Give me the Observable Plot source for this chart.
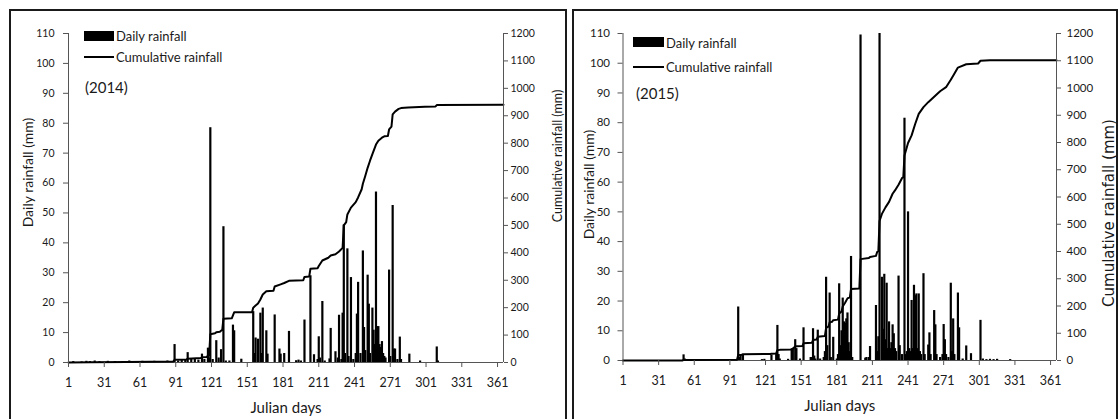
<!DOCTYPE html>
<html><head><meta charset="utf-8">
<script src="https://cdn.jsdelivr.net/npm/d3@7"></script>
<script src="https://cdn.jsdelivr.net/npm/@observablehq/plot@0.6"></script>
<style>
html,body{margin:0;padding:0;background:#fff;}
#wrap{position:relative;width:1119px;height:419px;overflow:hidden;font-family:Lato,sans-serif;color:#1a1a1a;}
.box{position:absolute;border:2px solid #1a1a1a;box-sizing:border-box;}
.chart{position:absolute;top:0;}
.chart svg{overflow:visible;}
.sw{position:absolute;background:#000;}
.lg{position:absolute;font-size:13px;line-height:1;white-space:nowrap;transform:translateY(-50%);}
.yr{font-size:15px;}
</style></head><body>
<div id="wrap">
  <div class="box" style="left:9px;top:9px;width:558px;height:430px;"></div>
  <div class="box" style="left:572px;top:9px;width:546px;height:430px;"></div>
  <div class="chart" id="c2014" style="left:0px;"></div>
  <div class="chart" id="c2015" style="left:560px;"></div>
  <!-- legends -->
  <div class="sw" style="left:84px;top:31px;width:30px;height:10px;"></div>
  <div class="lg" style="left:116px;top:36px;">Daily rainfall</div>
  <div class="sw" style="left:84px;top:56px;width:30px;height:2px;"></div>
  <div class="lg" style="left:116px;top:57px;">Cumulative rainfall</div>
  <div class="lg yr" style="left:85px;top:87px;">(2014)</div>

  <div class="sw" style="left:633px;top:37px;width:31px;height:10px;"></div>
  <div class="lg" style="left:666px;top:42.5px;">Daily rainfall</div>
  <div class="sw" style="left:633px;top:66px;width:31px;height:2px;"></div>
  <div class="lg" style="left:666px;top:67px;">Cumulative rainfall</div>
  <div class="lg yr" style="left:636px;top:93px;">(2015)</div>
</div>
<script>
// ---- axis ticks ----
const xTicks = [1, 31, 61, 91, 121, 151, 181, 211, 241, 271, 301, 331, 361];
const dailyTicks = [0, 10, 20, 30, 40, 50, 60, 70, 80, 90, 100, 110];
const cumTicks = [0, 100, 200, 300, 400, 500, 600, 700, 800, 900, 1000, 1100, 1200];
const DAILY_MAX = 110, CUM_MAX = 1200, DAY_MAX = 366;

// ---- 2014: daily rainfall [julian day, mm] ----
const daily2014 = [
  [5,0.3],[12,0.2],[16,0.4],[19,0.3],[23,0.5],[27,0.3],[34,0.4],[40,0.3],[46,0.3],[52,0.5],[57,0.3],
  [63,0.4],[68,0.3],[73,0.4],[78,0.3],[84,0.5],
  [90,6],[93,0.5],[96,0.8],[99,1],[101,3.3],[104,1],[107,1.2],[110,0.8],[113,2.8],[115,1],[118,4.8],[119,1.5],
  [120,78.5],[122,1],[125,7.3],[127,1.5],[129,4.3],[131,45.4],[133,0.5],[136,0.5],[139,12.5],[140,10.6],[146,1.1],
  [156,17],[157,3],[158,8.2],[160,7.8],[162,16.5],[163,3],[164,18.2],[167,10.6],[168,2.8],[174,15.9],[178,4.5],
  [179,2.8],[182,3],[186,10.4],[192,0.6],[194,0.8],[196,0.5],[199,14.2],[204,29],[207,2.6],[210,1],[211,8.6],
  [212,1.5],[214,20.4],[216,0.5],[220,1.2],[221,11.4],[225,3.6],[227,1.5],[228,15.8],[230,1],[231,16.5],[232,46],
  [233,3],[235,38],[236,2],[238,28.4],[240,1],[242,3],[243,16.2],[244,26.8],[246,3],[248,37.3],[249,11.7],[250,4],
  [252,29.2],[253,19.5],[254,3],[256,18.2],[257,10.8],[258,6],[259,57],[260,12],[261,12],[262,6],[263,5],[264,7],
  [265,3],[266,2],[267,1.5],[270,30.9],[271,2],[273,52.5],[274,4.5],[275,4.5],[277,1],[279,8.5],[280,1],[287,2.8],
  [296,0.5],[310,5.2],[311,0.5]
];
// ---- 2014: cumulative rainfall [julian day, mm] ----
const cum2014 = [
  [1,0],[20,1],[50,2],[89,4],[90,10],[100,11],[101,14],[112,16],[113,19],[117,20],[118,25],[119,26],[120,103],
  [124,107],[125,110],[128,112],[129,116],[130,118],[131,160],[138,161],[139,172],[140,183],[155,183],[156,200],
  [158,208],[160,215],[162,230],[164,248],[167,260],[173,262],[174,277],[179,285],[182,290],[186,298],[198,300],
  [199,312],[203,314],[204,342],[210,344],[211,352],[214,372],[219,382],[221,390],[225,395],[228,405],[231,418],
  [232,500],[234,512],[235,540],[238,565],[242,585],[244,602],[247,632],[248,652],[250,680],[252,710],[254,736],
  [256,760],[259,795],[261,809],[264,820],[266,825],[269,826],[270,850],[272,860],[273,905],[275,915],[278,925],
  [280,928],[286,930],[300,933],[309,934],[310,939],[366,940]
];

// ---- 2015: daily rainfall [julian day, mm] ----
const daily2015 = [
  [52,1.9],[53,0.5],[98,18],[99,1],[100,2],[102,1.8],[118,0.3],[120,0.4],[126,1.8],[130,2],[131,11.8],[132,2],
  [133,0.5],[140,0.4],[143,3.9],[144,4],[146,7],[147,4],[150,0.5],[153,11],[159,1],[160,1],[161,10.7],[162,1.5],
  [163,0.5],[165,10.2],[167,0.5],[170,1],[171,3],[172,28],[173,5],[175,22.7],[176,1],[178,7.8],[181,0.5],[182,2],
  [183,25.8],[184,5],[185,10],[186,21],[187,13],[188,12.5],[189,14],[190,16],[191,6],[192,3],[193,35],[194,1],
  [201,109.5],[205,0.8],[206,1],[208,1],[209,4.7],[214,18.5],[215,3],[216,8],[217,110],[219,28],[220,10.5],
  [221,29],[222,7],[223,26],[224,4],[225,13],[226,4],[227,6],[228,12],[229,9],[230,4],[231,3],[233,28.4],[234,5],
  [236,2],[238,81.5],[239,2],[240,3],[241,50],[242,4],[243,3],[244,20.2],[245,4],[246,25.3],[247,21.8],[248,22.4],
  [249,4],[250,22.4],[251,3],[252,2],[254,29.2],[255,2],[258,5.2],[259,9.3],[260,2],[263,16.8],[264,12],[265,2],
  [268,1],[270,2],[271,12.1],[272,7],[273,2],[275,1],[277,26],[278,3],[279,14],[280,2],[283,22.7],[284,11],
  [287,0.5],[290,4.9],[294,2.3],[302,13.5],[304,0.5],[307,0.3],[310,0.4],[313,0.3],[316,0.4],[327,0.3]
];
// ---- 2015: cumulative rainfall [julian day, mm] ----
const cum2015 = [
  [1,0],[51,0],[52,2],[97,3],[98,20],[101,21],[102,23],[125,24],[126,25],[130,26],[131,38],[133,39],[143,40],
  [144,44],[146,51],[147,52],[152,53],[153,63],[160,65],[161,75],[164,77],[165,87],[171,90],[172,120],[174,124],
  [175,140],[177,142],[178,148],[182,150],[183,172],[185,180],[186,198],[188,212],[190,228],[192,232],[193,262],
  [200,264],[201,372],[208,376],[209,380],[214,384],[215,398],[216,402],[217,512],[219,538],[222,562],[225,582],
  [228,612],[230,624],[233,645],[236,670],[237,672],[238,752],[241,798],[244,826],[247,868],[250,905],[254,930],
  [258,948],[263,968],[268,988],[273,1003],[277,1030],[279,1045],[283,1075],[290,1087],[300,1090],[302,1100],
  [310,1102],[366,1102]
];

const toDaily = v => v * DAILY_MAX / CUM_MAX;
const AX = "#555";

function rainChart(o) {
  return Plot.plot({
    width: o.width, height: 419,
    marginTop: 33, marginBottom: o.marginBottom, marginLeft: o.marginLeft, marginRight: o.marginRight,
    style: {fontFamily: "Lato, sans-serif", color: "#1a1a1a", background: "transparent", overflow: "visible"},
    x: {domain: [1, DAY_MAX]},
    y: {domain: [0, DAILY_MAX]},
    marks: [
      Plot.ruleY([0], {stroke: AX}),
      Plot.ruleX(o.daily, {x: d => d[0], y1: 0, y2: d => d[1], stroke: "#000", strokeWidth: 2.2}),
      Plot.line(o.cum, {x: d => d[0], y: d => toDaily(d[1]), stroke: "#000", strokeWidth: 2}),
      Plot.ruleX([1], {stroke: AX}),
      Plot.ruleX([DAY_MAX], {stroke: AX}),
      Plot.axisX({ticks: xTicks, tickSize: 5, tickPadding: 11, fontSize: o.xFont, stroke: AX, label: null}),
      Plot.axisY({ticks: dailyTicks, tickSize: 5, tickPadding: o.lPad, fontSize: o.yFont, stroke: AX, label: null}),
      Plot.axisY({anchor: "right", ticks: cumTicks.map(toDaily), tickFormat: v => String(Math.round(v * CUM_MAX / DAILY_MAX)),
        tickSize: 4, tickPadding: o.rPad, fontSize: o.yFont, stroke: AX, label: null}),
      Plot.text(["Julian days"], {text: d => d, frameAnchor: "bottom", textAnchor: "middle", dy: o.xTitleDy, fontSize: 15}),
      Plot.text(["Daily rainfall (mm)"], {text: d => d, frameAnchor: "left", textAnchor: "middle", rotate: -90,
        dx: o.lTitle[0], dy: o.lTitle[1], fontSize: o.lFont, ariaLabel: "ltitle"}),
      Plot.text(["Cumulative rainfall (mm)"], {text: d => d, frameAnchor: "right", textAnchor: "middle", rotate: -90,
        dx: o.rTitle[0], dy: o.rTitle[1], fontSize: o.rFont, fontFamily: o.rFamily, ariaLabel: "rtitle"})
    ]
  });
}

const c1 = rainChart({daily: daily2014, cum: cum2014, width: 560, marginLeft: 68, marginRight: 57, marginBottom: 57,
  xFont: 12.5, yFont: 10.5, lPad: 9, rPad: 3, xTitleDy: 50, lTitle: [-40, -25.5], rTitle: [54, -42], lFont: 14, rFont: 12.5,
  rFamily: "Lato, sans-serif"});
document.getElementById("c2014").appendChild(c1);

const c2 = rainChart({daily: daily2015, cum: cum2015, width: 559, marginLeft: 62.5, marginRight: 63, marginBottom: 59,
  xFont: 12.5, yFont: 11.5, lPad: 8, rPad: 6, xTitleDy: 50, lTitle: [-33, -12.5], rTitle: [53, 16], lFont: 14, rFont: 15,
  rFamily: "DejaVu Sans, sans-serif"});
document.getElementById("c2015").appendChild(c2);
const rt = c2.querySelector('g[aria-label="rtitle"] text');
if (rt) rt.style.letterSpacing = "6.5px";
</script>
</body></html>
